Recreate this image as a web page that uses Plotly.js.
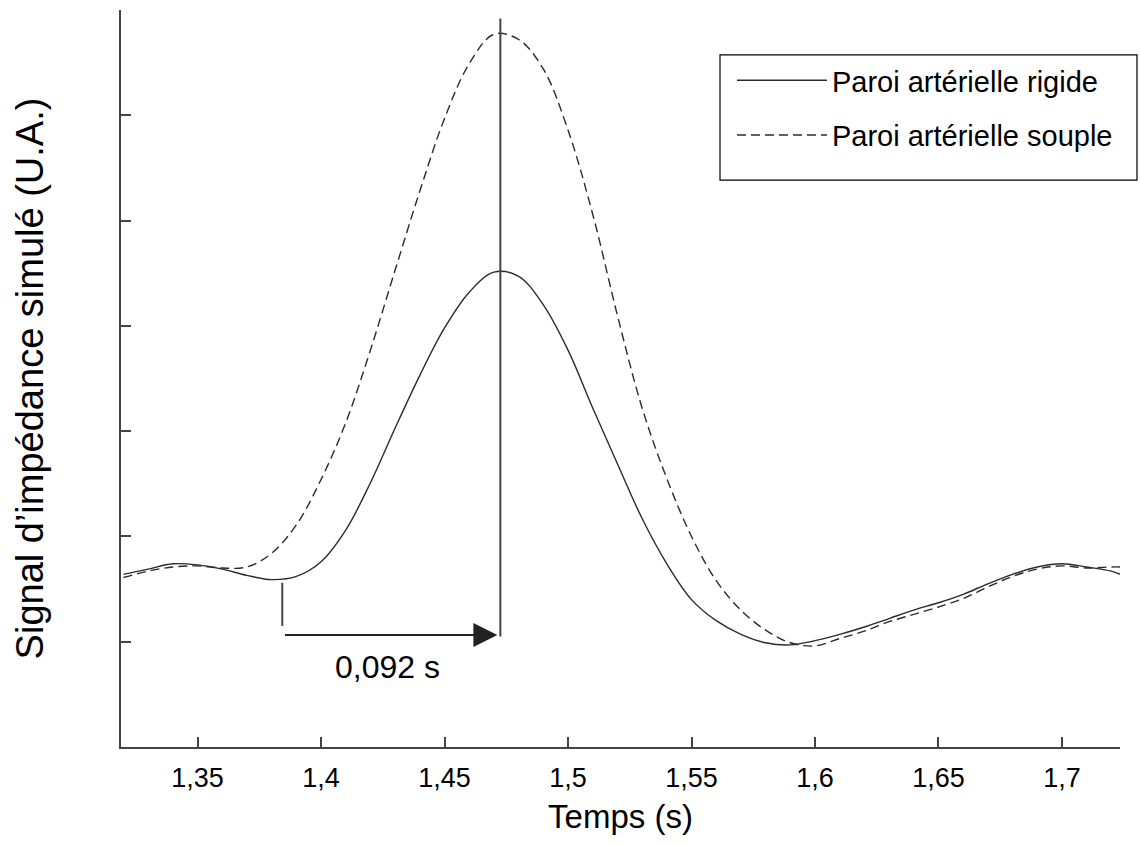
<!DOCTYPE html>
<html>
<head>
<meta charset="utf-8">
<script src="https://cdn.plot.ly/plotly-3.0.1.min.js"></script>
<style>html,body{margin:0;padding:0;background:#fff;}#chart{width:1140px;height:846px;}</style>
</head>
<body>
<div id="chart"></div>
<script>
// Time (s)
const temps = [1.32,1.33,1.34,1.35,1.36,1.37,1.38,1.39,1.40,1.41,1.42,1.43,1.44,1.45,1.46,1.47,1.48,1.49,1.50,1.51,1.52,1.53,1.54,1.55,1.56,1.57,1.58,1.59,1.60,1.61,1.62,1.63,1.64,1.65,1.66,1.67,1.68,1.69,1.70,1.71,1.72,1.7235];
// Simulated impedance signal (arbitrary units)
const rigide = [1.64,1.69,1.74,1.73,1.69,1.63,1.59,1.62,1.76,2.06,2.51,3.03,3.53,3.98,4.32,4.51,4.47,4.20,3.77,3.22,2.69,2.17,1.74,1.40,1.20,1.07,0.99,0.97,1.01,1.07,1.14,1.22,1.30,1.37,1.45,1.55,1.64,1.71,1.74,1.71,1.67,1.64];
const souple = [1.61,1.67,1.71,1.72,1.70,1.71,1.84,2.11,2.54,3.08,3.77,4.53,5.28,5.97,6.49,6.77,6.72,6.44,5.86,5.06,4.10,3.22,2.55,2.00,1.58,1.30,1.11,0.99,0.96,1.03,1.10,1.19,1.26,1.33,1.41,1.52,1.62,1.69,1.72,1.70,1.71,1.71];
const seriesNames = ['Paroi artérielle rigide', 'Paroi artérielle souple'];
const xTickVals = [1.35,1.40,1.45,1.50,1.55,1.60,1.65,1.70];
const xTickText = ['1,35','1,4','1,45','1,5','1,55','1,6','1,65','1,7'];
const yTickVals = [0,1,2,3,4,5,6];
// Delay annotation
const footTime = 1.3843, peakTime = 1.4726, arrowTip = 1.4714;
const delayLabel = '0,092 s';

const FONT = 'Liberation Sans, Arial, Helvetica, sans-serif';
const ink = '#2b2b2b';

const traces = [
  {x: temps, y: rigide, name: seriesNames[0], mode: 'lines', type: 'scatter',
   line: {color: ink, width: 1.4, shape: 'spline', smoothing: 1.0}, legendgroup: 'a'},
  {x: temps, y: souple, name: seriesNames[1], mode: 'lines', type: 'scatter',
   line: {color: ink, width: 1.4, dash: '9px,5px', shape: 'spline', smoothing: 1.0}, legendgroup: 'b'}
];

const layout = {
  width: 1140, height: 846,
  margin: {l: 121, r: 20, t: 10, b: 99},
  paper_bgcolor: '#fff', plot_bgcolor: '#fff',
  font: {family: FONT, color: '#000', size: 27},
  showlegend: true,
  legend: {x: 0.6116, y: 0.939, xanchor: 'left', yanchor: 'top',
           borderwidth: 0, bgcolor: 'rgba(0,0,0,0)',
           font: {family: FONT, size: 29, color: '#000'},
           itemwidth: 90, traceorder: 'grouped', tracegroupgap: 14},
  xaxis: {range: [1.319, 1.7235], showline: true, linecolor: '#444', linewidth: 2,
          ticks: 'inside', ticklen: 10, tickwidth: 2, tickcolor: '#444',
          tickvals: xTickVals, ticktext: xTickText, showgrid: false, zeroline: false,
          ticklabelstandoff: 6,
          tickfont: {family: FONT, size: 27, color: '#000'},
          title: {text: 'Temps (s)', font: {family: FONT, size: 33, color: '#000'}, standoff: 12}},
  yaxis: {range: [0, 7], showline: true, linecolor: '#444', linewidth: 2,
          ticks: 'inside', ticklen: 10, tickwidth: 2, tickcolor: '#444',
          tickvals: yTickVals, showticklabels: false, showgrid: false, zeroline: false,
          title: {text: 'Signal d’impédance simulé (U.A.)', font: {family: FONT, size: 38, color: '#000'}, standoff: 64}},
  shapes: [
    {type: 'line', xref: 'x', yref: 'y', x0: peakTime, x1: peakTime, y0: 1.05, y1: 6.92,
     line: {color: '#444', width: 2}},
    {type: 'line', xref: 'x', yref: 'y', x0: footTime, x1: footTime, y0: 1.15, y1: 1.56,
     line: {color: '#444', width: 2}},
    // legend frame
    {type: 'rect', xref: 'paper', yref: 'paper', x0: 0.5996, x1: 1.017, y0: 0.7693, y1: 0.939,
     line: {color: '#000', width: 1.2}, fillcolor: 'rgba(0,0,0,0)', layer: 'above'}
  ],
  annotations: [
    {x: arrowTip, y: 1.064, ax: footTime + 0.0005, ay: 1.064, axref: 'x', ayref: 'y', xref: 'x', yref: 'y',
     text: '', showarrow: true, arrowhead: 2, arrowsize: 2.4, arrowwidth: 2, arrowcolor: '#222'},
    {x: 1.4269, y: 0.76, xref: 'x', yref: 'y', text: delayLabel, showarrow: false,
     font: {family: FONT, size: 32, color: '#000'}}
  ]
};

Plotly.newPlot('chart', traces, layout, {displayModeBar: false, staticPlot: true});
</script>
</body>
</html>
